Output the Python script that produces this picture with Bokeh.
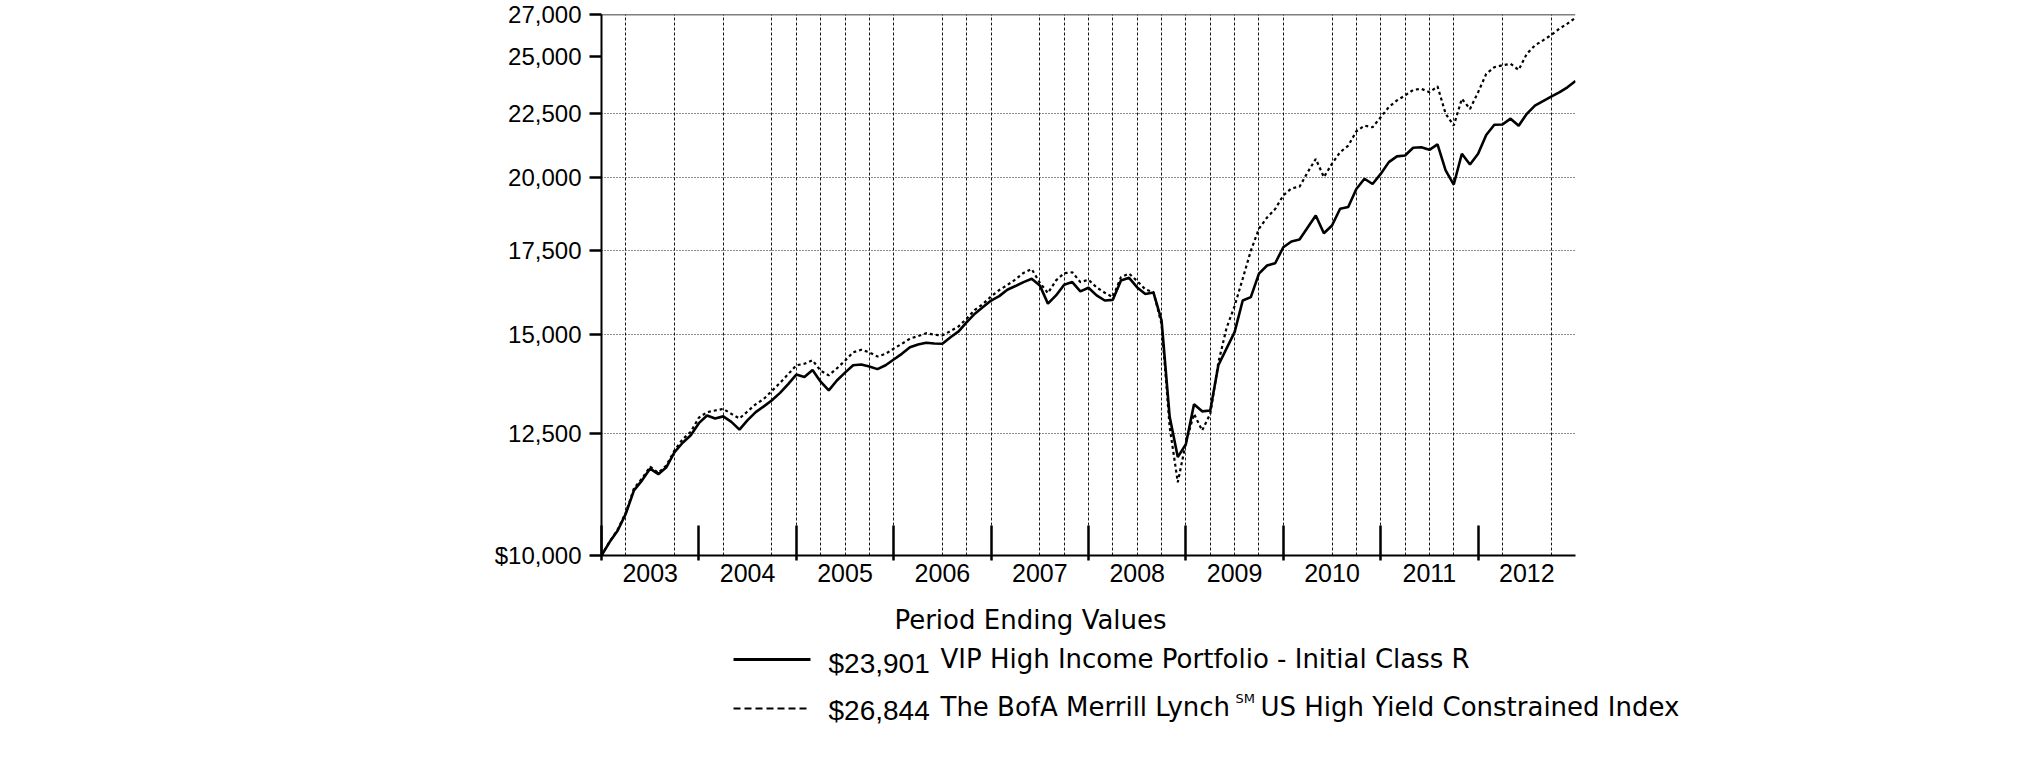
from bokeh.plotting import figure
from bokeh.models import FixedTicker, Range1d, Span
from bokeh.embed import file_html
from bokeh.resources import INLINE
from bokeh.core.properties import value

# Month-end values, Dec 2002 .. Dec 2012 (121 points)
fund = [10000,
        10250, 10470, 10800, 11270, 11480, 11730, 11610, 11760, 12090, 12300, 12470, 12750,
        12930, 12860, 12910, 12780, 12600, 12820, 13010, 13150, 13300, 13480, 13700, 13940,
        13880, 14060, 13760, 13540, 13790, 13990, 14180, 14200, 14150, 14080, 14180, 14330,
        14480, 14660, 14730, 14780, 14760, 14750, 14930, 15090, 15350, 15590, 15780, 15970,
        16100, 16290, 16400, 16520, 16620, 16420, 15880, 16120, 16440, 16520, 16240, 16350,
        16120, 15970, 15990, 16570, 16650, 16360, 16160, 16210, 15400, 12900, 11980, 12270,
        13200, 13030, 13050, 14180, 14620, 15070, 15970, 16070, 16780, 17030, 17100, 17610,
        17800, 17860, 18260, 18670, 18070, 18330, 18900, 18960, 19600, 19970, 19780, 20150,
        20590, 20810, 20840, 21140, 21160, 21060, 21270, 20280, 19760, 20910, 20500, 20910,
        21640, 22050, 22060, 22300, 22010, 22500, 22840, 23030, 23220, 23400, 23620, 23901]

index = [10000,
         10260, 10490, 10820, 11310, 11520, 11770, 11640, 11800, 12130, 12380, 12550, 12880,
         13010, 13050, 13090, 12970, 12860, 13030, 13200, 13330, 13530, 13730, 13950, 14180,
         14220, 14310, 14040, 13920, 14100, 14300, 14520, 14590, 14520, 14410, 14480, 14620,
         14750, 14890, 14960, 15040, 15000, 14980, 15100, 15230, 15450, 15700, 15870, 16090,
         16280, 16430, 16600, 16800, 16920, 16500, 16190, 16570, 16790, 16820, 16520, 16590,
         16360, 16200, 16070, 16670, 16780, 16550, 16300, 16220, 15300, 12660, 11440, 12300,
         12970, 12580, 12970, 14250, 15180, 15810, 16620, 17500, 18220, 18600, 18890, 19370,
         19620, 19680, 20210, 20710, 20030, 20530, 20970, 21220, 21790, 22020, 21950, 22360,
         22780, 23060, 23270, 23510, 23560, 23410, 23660, 22500, 22020, 23130, 22700, 23410,
         24210, 24510, 24600, 24660, 24390, 25120, 25510, 25750, 26000, 26300, 26550, 26844]

years = ["2003", "2004", "2005", "2006", "2007", "2008", "2009", "2010", "2011", "2012"]
y_ticks = [10000, 12500, 15000, 17500, 20000, 22500, 25000, 27000]
y_tick_labels = ["$10,000", "12,500", "15,000", "17,500", "20,000", "22,500", "25,000", "27,000"]
y_grid_values = [12500, 15000, 17500, 20000, 22500]
# vertical grid lines (months after Dec 2002)
x_grid_months = [3, 9, 15, 21, 24, 27, 30, 33, 36, 42, 45, 48, 54, 57, 60, 63, 66, 69,
                 72, 75, 78, 81, 84, 90, 93, 96, 99, 102, 105, 111, 117]

legend_title = "Period Ending Values"
legend_values = ["$23,901", "$26,844"]
legend_names = ["VIP High Income Portfolio - Initial Class R", "The BofA Merrill Lynch"]
legend_mark = "SM"
legend_tail = "US High Yield Constrained Index"

months = list(range(len(fund)))  # months since Dec 2002
n_months = 12 * len(years)

W = 2020
H1, H2 = 592, 164
FL, FR, FT, FB = 601, 1575, 14, 555   # frame edges in canvas pixels
p = figure(width=W, height=H1, x_range=Range1d(0, n_months),
           y_range=Range1d(y_ticks[0], y_ticks[-1]), y_axis_type="log",
           output_backend="svg", toolbar_location=None,
           min_border_left=FL, min_border_right=W - FR, min_border_top=FT,
           min_border_bottom=H1 - FB)
p.outline_line_color = None
p.background_fill_color = "white"
p.border_fill_color = "white"

# bottom axis: year labels at mid-year, tall ticks at year boundaries
xa = p.xaxis[0]
xa.ticker = FixedTicker(ticks=[6 + 12 * i for i in range(len(years))],
                        minor_ticks=[12 * i for i in range(len(years))])
xa.major_label_overrides = {6 + 12 * i: y for i, y in enumerate(years)}
xa.major_tick_line_color = None
xa.major_tick_in = 0
xa.major_tick_out = 0
xa.minor_tick_in = 30
xa.minor_tick_out = 5
xa.minor_tick_line_width = 2.5
xa.minor_tick_line_color = "black"
xa.axis_line_width = 2
xa.axis_line_color = "black"
xa.major_label_text_font = "Liberation Sans"
xa.major_label_text_font_size = "25px"
xa.major_label_text_color = "black"
xa.major_label_standoff = 3

ya = p.yaxis[0]
ya.ticker = FixedTicker(ticks=y_ticks)
ya.major_label_overrides = dict(zip(y_ticks, y_tick_labels))
ya.major_tick_in = 0
ya.major_tick_out = 12
ya.major_tick_line_width = 2.5
ya.major_tick_line_color = "black"
ya.minor_tick_line_color = None
ya.axis_line_width = 2
ya.axis_line_color = "black"
ya.major_label_text_font = "Liberation Sans"
ya.major_label_text_font_size = "24px"
ya.major_label_text_color = "black"
ya.major_label_standoff = 8

p.xgrid[0].ticker = FixedTicker(ticks=x_grid_months)
p.xgrid.grid_line_color = "black"
p.xgrid.grid_line_dash = "3 2"
p.xgrid.grid_line_width = 1
p.xgrid.grid_line_alpha = 0.9
p.ygrid[0].ticker = FixedTicker(ticks=y_grid_values)
p.ygrid.grid_line_color = "black"
p.ygrid.grid_line_dash = "1 2"
p.ygrid.grid_line_width = 1
p.ygrid.grid_line_alpha = 0.9

p.add_layout(Span(location=y_ticks[-1], dimension="width", line_color="black", line_width=1.5))

p.line(x=months, y=index, line_color="black", line_width=2.2, line_dash="3 3")
p.line(x=months, y=fund, line_color="black", line_width=2.6)

# legend panel: a second root whose frame spans the whole canvas (pixel coordinates)
q = figure(width=W, height=H2, x_range=Range1d(0, W), y_range=Range1d(H2, 0),
           output_backend="svg", toolbar_location=None,
           x_axis_location=None, y_axis_location=None, min_border=0)
q.outline_line_color = None
q.grid.visible = False
q.background_fill_color = "white"
q.border_fill_color = "white"

OY = H1       # canvas offset of the legend panel
TY = 9        # text baseline correction


def txt(text, px, py, font, size, align="left"):
    q.text(x=[px], y=[py - OY - TY], text=[text], text_font=value(font),
           text_font_size=value(size), text_align=align, text_baseline="alphabetic",
           text_color="black")


txt(legend_title, 1030, 628, "DejaVu Sans", "26px", "center")
q.line(x=[733, 810], y=[659 - OY, 659 - OY], line_color="black", line_width=3)
q.line(x=[733, 810], y=[708 - OY, 708 - OY], line_color="black", line_width=2,
       line_dash="7 4")
txt(legend_values[0], 828, 671.5, "Liberation Sans", "28px")
txt(legend_values[1], 828, 719, "Liberation Sans", "28px")
txt(legend_names[0], 940, 667.3, "DejaVu Sans", "26px")
txt(legend_names[1], 940, 715, "DejaVu Sans", "26px")
txt(legend_mark, 1235, 706.7, "DejaVu Sans", "13px")
txt(legend_tail, 1260, 715, "DejaVu Sans", "26px")

open("out.html", "w").write(file_html([p, q], INLINE))
